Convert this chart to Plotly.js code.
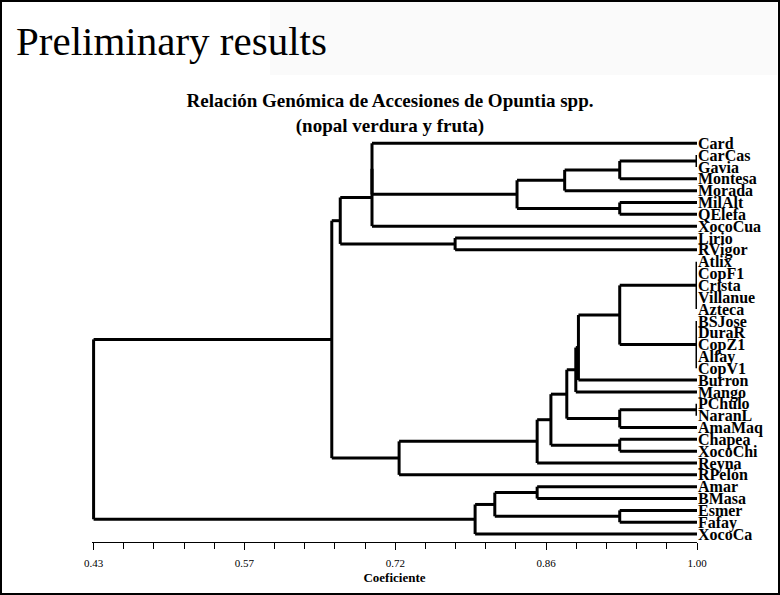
<!DOCTYPE html>
<html>
<head>
<meta charset="utf-8">
<script src="https://cdn.plot.ly/plotly-3.0.1.min.js"></script>
<style>html,body{margin:0;padding:0;background:#fff;}#chart{width:780px;height:595px;}</style>
</head>
<body>
<div id="chart"></div>
<script>
// Leaves (top to bottom)
const leafNames = ["Card","CarCas","Gavia","Montesa","Morada","MilAlt","QElefa","XocoCua","Lirio","RVigor",
  "Atlix","CopF1","Crista","Villanue","Azteca","BSJose","DuraR","CopZ1","Alfay","CopV1",
  "Burron","Mango","PChulo","NaranL","AmaMaq","Chapea","XocoChi","Reyna","RPelón",
  "Amar","BMasa","Esmer","Fafay","XocoCa"];
// Internal nodes: children ids (leaves 0..33, node k has id 34+k) and similarity coefficient
const nodeChildren = [
  [1,2],[34,3],[35,4],[5,6],[36,37],[0,38],[39,7],[8,9],[40,41],
  [10,11,12,13,14],[15,16,17,18,19],[43,44],[45,20],[46,21],[22,23],[48,24],[47,49],
  [25,26],[50,51],[52,27],[53,28],[42,54],
  [29,30],[31,32],[56,57],[58,33],[55,59]
];
const nodeHeights = [
  1.00,0.927,0.875,0.927,0.830,0.693,0.693,0.7715,0.663,
  1.00,1.00,0.927,0.888,0.8855,1.00,0.927,0.877,
  0.927,0.862,0.849,0.7186,0.655,
  0.849,0.927,0.809,0.7904,0.43
];
const tickVals = [0.43,0.5725,0.715,0.8575,1.00];
const tickText = ["0.43","0.57","0.72","0.86","1.00"];

const nLeaf = leafNames.length;
const H = {}, Y = {};
for (let i = 0; i < nLeaf; i++) { H[i] = 1.0; Y[i] = i; }
const xs = [], ys = [];
nodeChildren.forEach((ch, k) => {
  const id = nLeaf + k, h = nodeHeights[k];
  const cy = ch.map(c => Y[c]);
  const ymin = Math.min(...cy), ymax = Math.max(...cy);
  H[id] = h; Y[id] = (ymin + ymax) / 2;
  xs.push(h, h, null); ys.push(ymin, ymax, null);
  ch.forEach(c => { xs.push(H[c], h, null); ys.push(Y[c], Y[c], null); });
});

const M = {l: 92, r: 83, t: 130, b: 53};
const W = 780, HH = 595;
const pw = W - M.l - M.r, ph = HH - M.t - M.b;
const px = x => (x - M.l) / pw;
const py = y => (HH - M.b - y) / ph;

const serif = "Liberation Serif, Times New Roman, serif";
const trace = {x: xs, y: ys, type: 'scatter', mode: 'lines', line: {color: '#000', width: 3}, hoverinfo: 'skip', showlegend: false};

const layout = {
  width: W, height: HH, margin: M, paper_bgcolor: '#fff', plot_bgcolor: 'rgba(0,0,0,0)',
  title: {text: "Relación Genómica de Accesiones de Opuntia spp.<br>(nopal verdura y fruta)",
    font: {family: serif, size: 19, color: '#000', weight: 700},
    x: 0.5, xref: 'container', xanchor: 'center', y: 1 - 107/595, yref: 'container', yanchor: 'top'},
  xaxis: {range: [0.4285, 1.0], showgrid: false, zeroline: false, showline: true, linecolor: '#000', linewidth: 1,
    tickmode: 'array', tickvals: tickVals, ticktext: tickText, ticks: 'outside', ticklen: 7, tickwidth: 1, tickcolor: '#000',
    minor: {tick0: 0.43, dtick: 0.0285, ticks: 'outside', ticklen: 6, tickwidth: 1, tickcolor: '#000', showgrid: false},
    ticklabelstandoff: 4,
    tickfont: {family: serif, size: 11, color: '#000'},
    title: {text: "Coeficiente", font: {family: serif, size: 13, color: '#000', weight: 700}, standoff: 4}},
  yaxis: {range: [33.67, -1.12], side: 'right', showgrid: false, zeroline: false, showline: false, ticks: '',
    tickmode: 'array', tickvals: leafNames.map((_, i) => i), ticktext: leafNames,
    tickfont: {family: serif, size: 16, color: '#000', weight: 700}},
  shapes: [
    {type: 'rect', xref: 'paper', yref: 'paper', x0: px(270), x1: px(777), y0: py(2), y1: py(75), fillcolor: '#fafafa', line: {width: 0}, layer: 'below'},
    {type: 'rect', xref: 'paper', yref: 'paper', x0: px(1), x1: px(779), y0: py(1), y1: py(594), line: {color: '#000', width: 2}}
  ],
  annotations: [
    {text: "Preliminary results", xref: 'paper', yref: 'paper', x: px(14), y: py(41), xanchor: 'left', yanchor: 'middle',
     showarrow: false, font: {family: serif, size: 41, color: '#000'}}
  ]
};
Plotly.newPlot('chart', [trace], layout, {displayModeBar: false, staticPlot: true});
</script>
</body>
</html>
